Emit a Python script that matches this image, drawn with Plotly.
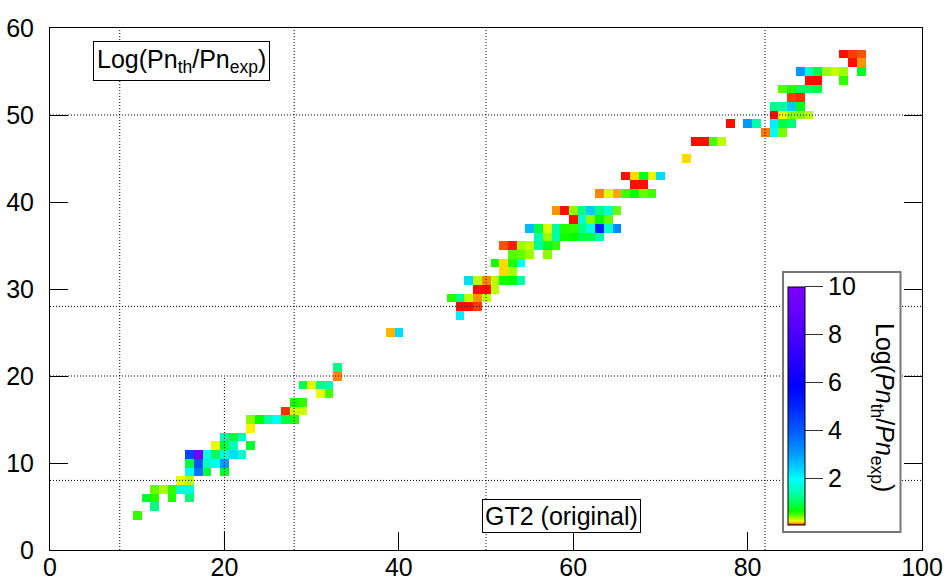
import colorsys
import math
import plotly.graph_objects as go

# Cells of the chart: neutron number N, proton number Z, value of Log(Pn_th/Pn_exp)
cell_n = [
    10,
    12,
    11, 12, 14, 16,
    12, 13, 14, 15, 16,
    15, 16,
    16, 17, 18, 20,
    16, 17, 18, 19, 20,
    16, 17, 18, 19, 20, 21, 22,
    19, 20, 21, 23,
    20, 21, 22,
    23,
    23, 24, 25, 26, 27, 28,
    27, 28, 29,
    28, 29,
    31, 32,
    29, 30, 31, 32,
    33,
    33,
    39, 40,
    47,
    47, 48, 49,
    46, 47, 48, 49, 50,
    49, 50, 51,
    48, 49, 50, 51, 52, 53, 54,
    52, 53,
    51, 52, 53, 54,
    53, 54, 55, 57,
    52, 53, 54, 55, 56, 57, 58,
    56, 57, 58, 59, 60, 61, 62, 63,
    55, 56, 57, 58, 59, 60, 61, 62, 63, 64, 65,
    60, 61, 62, 63, 64,
    58, 59, 60, 61, 62, 63, 64, 65,
    63, 64, 65, 66, 67, 68, 69,
    67, 68,
    66, 67, 68, 69, 70,
    73,
    74, 75, 76, 77,
    82, 83, 84,
    78, 80, 81, 83, 84, 85,
    83, 84, 85, 86, 87,
    83, 84, 85, 86,
    85, 86,
    84, 85, 86, 87, 88,
    87, 88, 91,
    86, 87, 88, 89, 90, 91, 93,
    92, 93,
    91, 92, 93,
]
cell_z = [
    4,
    5,
    6, 6, 6, 6,
    7, 7, 7, 7, 7,
    8, 8,
    9, 9, 9, 9,
    10, 10, 10, 10, 10,
    11, 11, 11, 11, 11, 11, 11,
    12, 12, 12, 12,
    13, 13, 13,
    14,
    15, 15, 15, 15, 15, 15,
    16, 16, 16,
    17, 17,
    18, 18,
    19, 19, 19, 19,
    20,
    21,
    25, 25,
    27,
    28, 28, 28,
    29, 29, 29, 29, 29,
    30, 30, 30,
    31, 31, 31, 31, 31, 31, 31,
    32, 32,
    33, 33, 33, 33,
    34, 34, 34, 34,
    35, 35, 35, 35, 35, 35, 35,
    36, 36, 36, 36, 36, 36, 36, 36,
    37, 37, 37, 37, 37, 37, 37, 37, 37, 37, 37,
    38, 38, 38, 38, 38,
    39, 39, 39, 39, 39, 39, 39, 39,
    41, 41, 41, 41, 41, 41, 41,
    42, 42,
    43, 43, 43, 43, 43,
    45,
    47, 47, 47, 47,
    48, 48, 48,
    49, 49, 49, 49, 49, 49,
    50, 50, 50, 50, 50,
    51, 51, 51, 51,
    52, 52,
    53, 53, 53, 53, 53,
    54, 54, 54,
    55, 55, 55, 55, 55, 55, 55,
    56, 56,
    57, 57, 57,
]
cell_val = [
    0.57,
    1.24,
    0.87, 0.61, 0.61, 1.15,
    0.46, 0.345, 0.57, 1.76, 1.76,
    0.26, 0.32,
    1.89, 3.58, 0.93, 0.81,
    0.93, 4.12, 1.53, 2.03, 3.1,
    4.42, 9.5, 2.03, 1.07, 1.64, 2.34, 1.64,
    0.26, 0.93, 1.53, 0.87,
    1.42, 0.93, 1.53,
    0.23,
    0.40, 0.70, 1.42, 1.89, 0.93, 0.61,
    0.104, 0.30, 0.30,
    0.65, 0.57,
    0.26, 0.53,
    1.0, 0.28, 1.24, 1.42,
    0.148,
    1.24,
    0.18, 2.34,
    2.18,
    0.09, 0.09, 0.111,
    0.61, 1.24, 0.32, 0.158, 0.32,
    0.09, 0.09, 0.32,
    2.34, 0.32, 0.148, 0.32, 0.65, 0.70, 1.42,
    0.21, 0.345,
    0.65, 0.21, 0.61, 2.03,
    0.49, 0.46, 0.37, 0.40,
    0.12, 0.096, 0.37, 0.32, 1.33, 0.81, 0.57,
    1.42, 0.37, 1.42, 0.65, 0.70, 0.93, 0.93, 1.42,
    2.7, 0.93, 0.28, 1.42, 0.61, 0.57, 1.24, 1.76, 5.1, 1.64, 3.33,
    0.09, 1.64, 0.40, 0.70, 0.46,
    0.158, 0.09, 0.40, 1.24, 2.51, 1.24, 1.64, 0.46,
    0.148, 0.28, 0.17, 0.53, 0.70, 0.46, 0.53,
    0.09, 0.09,
    0.09, 0.21, 0.81, 0.26, 2.34,
    0.21,
    0.09, 0.09, 0.53, 0.32,
    0.138, 2.03, 0.43,
    0.09, 3.1, 1.42, 2.18, 0.93, 1.15,
    0.09, 0.242, 0.40, 0.40, 0.32,
    1.24, 1.38, 2.51, 0.81,
    0.111, 0.104,
    0.49, 0.61, 1.07, 1.07, 0.93,
    0.09, 0.09, 0.57,
    3.1, 1.64, 0.93, 0.37, 0.30, 0.37, 0.81,
    0.09, 0.158,
    0.09, 0.111, 0.12,
]

# Magic numbers marked by dotted guide lines: (value, start, end) along the other axis
magic_n = [(8, 0, 60), (20, 0, 20), (28, 0, 60), (50, 0, 60), (82, 0, 60)]
magic_z = [(8, 0, 100), (20, 0, 100), (28, 0, 100), (50, 0, 100)]
x_ticks = [0, 20, 40, 60, 80, 100]
y_ticks = [0, 10, 20, 30, 40, 50, 60]
cbar_ticks = [2, 4, 6, 8, 10]

Z_MIN, Z_MAX = 0.084, 10.0

# Plot-area geometry in pixels
L, R, T, B = 50, 922, 28, 550
PW, PH = R - L, B - T


def px_x(p):
    return (p - L) / PW


def px_y(p):
    return (B - p) / PH


# Rainbow palette whose hue grows with log10 of the value
def hue_of(v):
    h = 140.0 + 130.0 * math.log10(v)
    return min(max(h, 0.0), 270.0)


stops = []
n_stops = 200
for i in range(n_stops + 1):
    t = i / n_stops
    v = Z_MIN + t * (Z_MAX - Z_MIN)
    r, g, b = colorsys.hsv_to_rgb(hue_of(v) / 360.0, 1.0, 1.0)
    stops.append([t, f"rgb({int(r*255)},{int(g*255)},{int(b*255)})"])

# Fill a full N x Z grid so every bin is one unit wide
n_axis = list(range(0, 101))
z_axis = list(range(0, 61))
grid = [[None for _ in n_axis] for _ in z_axis]
for n, z, v in zip(cell_n, cell_z, cell_val):
    grid[z][n] = v

FONT = "Liberation Sans, Arial, sans-serif"

fig = go.Figure()
fig.add_trace(go.Heatmap(
    x=n_axis, y=z_axis, z=grid,
    zmin=Z_MIN, zmax=Z_MAX,
    colorscale=stops,
    hoverongaps=False,
    colorbar=dict(
        thickness=17, thicknessmode="pixels",
        len=238, lenmode="pixels",
        x=px_x(787.5), xanchor="left", xpad=0,
        y=px_y(524.5), yanchor="bottom", ypad=0,
        outlinecolor="black", outlinewidth=1,
        tickmode="array", tickvals=cbar_ticks,
        ticks="outside", ticklen=18, tickcolor="#333", tickwidth=1,
        tickfont=dict(family=FONT, size=25, color="black"),
    ),
))

DOT = dict(color="black", width=1, dash="1px,2px")
shapes = []
for n, z0, z1 in magic_n:
    shapes.append(dict(type="line", xref="x", yref="y", x0=n, x1=n, y0=z0, y1=z1, line=DOT))
for z, n0, n1 in magic_z:
    shapes.append(dict(type="line", xref="x", yref="y", x0=n0, x1=n1, y0=z, y1=z, line=DOT))
# Frame behind the colour scale
shapes.append(dict(type="rect", xref="paper", yref="paper",
                   x0=px_x(783), x1=px_x(900.5), y0=px_y(532), y1=px_y(272),
                   fillcolor="white", line=dict(color="#777", width=2)))

annotations = [
    dict(text="Log(Pn<sub>th</sub>/Pn<sub>exp</sub>)", xref="paper", yref="paper",
         x=px_x(181), y=px_y(61), xanchor="center", yanchor="middle", showarrow=False,
         font=dict(family=FONT, size=25, color="black"),
         bordercolor="black", borderwidth=1, bgcolor="white", borderpad=3),
    dict(text="GT2 (original)", xref="paper", yref="paper",
         x=px_x(561), y=px_y(515.5), xanchor="center", yanchor="middle", showarrow=False,
         font=dict(family=FONT, size=25, color="black"),
         bordercolor="black", borderwidth=1, bgcolor="white", borderpad=2),
    dict(text="Log(<i>Pn</i><sub>th</sub>/<i>Pn</i><sub>exp</sub>)", xref="paper", yref="paper",
         x=px_x(883), y=px_y(407), xanchor="center", yanchor="middle", showarrow=False,
         textangle=90, font=dict(family=FONT, size=25, color="black")),
]

axis_common = dict(
    showgrid=False, zeroline=False, showline=True, linecolor="black", linewidth=1,
    ticks="inside", ticklen=18, tickcolor="black", tickwidth=1,
    tickfont=dict(family=FONT, size=25, color="black"),
)

fig.update_layout(
    width=946, height=586,
    margin=dict(l=L, r=946 - R, t=T, b=586 - B, autoexpand=False),
    paper_bgcolor="white", plot_bgcolor="white",
    xaxis=dict(range=[0, 100], tickmode="array", tickvals=x_ticks, mirror=True,
               ticklabelstandoff=-5, **axis_common),
    # short tick marks along the top edge of the frame
    xaxis2=dict(range=[0, 100], overlaying="x", side="top", tickmode="array",
                tickvals=x_ticks, ticks="inside", ticklen=5, tickcolor="black",
                showticklabels=False, showgrid=False, zeroline=False, showline=False),
    yaxis=dict(range=[0, 60], tickmode="array", tickvals=y_ticks, mirror="ticks",
               ticklabelstandoff=10, **axis_common),
    shapes=shapes, annotations=annotations,
    showlegend=False,
)

fig.write_html("out.html")
